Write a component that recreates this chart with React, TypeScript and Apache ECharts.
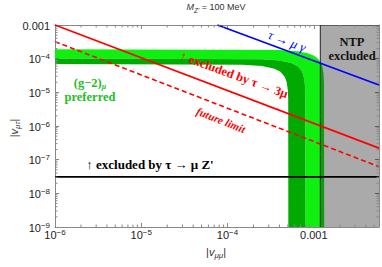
import React, { useEffect, useRef } from "react";
import * as echarts from "echarts";

const X_MIN = 1e-6;
const X_MAX = 5.7e-3;
const Y_MIN = 1e-9;
const Y_MAX = 1e-3;

// (g-2)_mu preferred band boundaries
const g2Inner: [number, number][] = [
  [1e-6, 6.95e-5], [1.5e-4, 6.64e-5], [2.5e-4, 6.05e-5], [3.5e-4, 5.03e-5],
  [4.1e-4, 4.09e-5], [4.6e-4, 2.92e-5], [4.85e-4, 2.02e-5], [5.0e-4, 1.16e-5],
  [5.05e-4, 6.2e-6], [5.07e-4, 1e-9],
];
const g2Mid: [number, number][] = [
  [1e-6, 1.02e-4], [2.5e-4, 9.69e-5], [4e-4, 8.83e-5], [5.5e-4, 7.41e-5],
  [6.5e-4, 5.95e-5], [7.2e-4, 4.45e-5], [7.6e-4, 3.18e-5], [7.85e-4, 1.97e-5],
  [7.95e-4, 1.13e-5], [8e-4, 1e-9],
];
const g2Outer: [number, number][] = [
  [1e-6, 1.9e-4], [4e-4, 1.81e-4], [6.5e-4, 1.65e-4], [8.5e-4, 1.45e-4],
  [1.0e-3, 1.24e-4], [1.12e-3, 1.0e-4], [1.2e-3, 7.9e-5], [1.26e-3, 5.65e-5],
  [1.295e-3, 3.68e-5], [1.313e-3, 1.9e-5], [1.32e-3, 1e-9],
];

const tauMuGamma: [number, number][] = [[7.65e-5, 1e-3], [5.7e-3, 1.65e-5]];
const tau3mu: [number, number][] = [[1e-6, 1e-3], [5.7e-3, 2.2e-7]];
const tau3muFuture: [number, number][] = [[1e-6, 3.2e-4], [5.7e-3, 6.2e-8]];
const tauMuZ: [number, number][] = [[1e-6, 3.1e-8], [5.7e-3, 3.1e-8]];
const ntpStart = 1.19e-3;

const xDecades = [-6, -5, -4, -3];
const yDecades = [-9, -8, -7, -6, -5, -4, -3];
const minorMult = [2, 3, 4, 5, 6, 7, 8, 9];

const LIGHT = "#10f010";
const DARK = "#00aa00";

const bands = [
  { pts: [...g2Mid, ...[...g2Outer].reverse()], color: LIGHT },
  { pts: [...g2Inner, ...[...g2Mid].reverse()], color: DARK },
];

function fmt(v: number) {
  const l = Math.log10(v);
  const e = Math.round(l);
  if (Math.abs(l - e) > 0.01) return "";
  if (e === -3) return "{c|0.001}";
  return "{b|10}{s|\u2212" + -e + "}";
}

const labelRich = {
  b: { fontSize: 11, lineHeight: 12, verticalAlign: "bottom", fontFamily: "Liberation Sans", color: "#222" },
  c: { fontSize: 11, lineHeight: 12, padding: [4, 0, 0, 0], verticalAlign: "bottom", fontFamily: "Liberation Sans", color: "#222" },
  s: { fontSize: 8, lineHeight: 8, padding: [0, 0, 8, 0], verticalAlign: "top", fontFamily: "Liberation Sans", color: "#222" },
};

const FRAME = "#888";

export default function App() {
  const ref = useRef<HTMLDivElement>(null);
  useEffect(() => {
    if (!ref.current) return;
    const chart = echarts.init(ref.current, null, { renderer: "svg" });

    const minorData: number[][] = [];
    xDecades.forEach((d) =>
      minorMult.forEach((k) => {
        const v = k * Math.pow(10, d);
        if (v < X_MAX) minorData.push([v, 1e-6, 0]);
      })
    );
    yDecades.slice(0, -1).forEach((d) =>
      minorMult.forEach((k) => {
        minorData.push([1e-5, k * Math.pow(10, d), 1]);
      })
    );

    const axisCommon = {
      type: "log",
      logBase: 10,
      axisLine: { show: true, lineStyle: { color: FRAME, width: 1 } },
      axisTick: { show: true, inside: true, length: 4, lineStyle: { color: FRAME } },
      splitLine: { show: false },
      minorTick: { show: false },
    };

    const tickLine = (x1: number, y1: number, x2: number, y2: number) => ({
      type: "line",
      shape: { x1, y1, x2, y2 },
      style: { stroke: FRAME, lineWidth: 1 },
    });

    const serifBold = "bold 13px 'Liberation Serif'";

    chart.setOption({
      animation: false,
      grid: { left: 55, right: 2, top: 25, bottom: 40, containLabel: false },
      xAxis: [
        {
          ...axisCommon,
          position: "bottom",
          min: X_MIN,
          max: X_MAX,
          axisLabel: { margin: 1, formatter: fmt, rich: labelRich },
        },
        { ...axisCommon, position: "top", min: X_MIN, max: X_MAX, axisLabel: { show: false } },
      ],
      yAxis: [
        {
          ...axisCommon,
          position: "left",
          min: Y_MIN,
          max: Y_MAX,
          axisLabel: { margin: 5, formatter: fmt, rich: labelRich },
        },
        { ...axisCommon, position: "right", min: Y_MIN, max: Y_MAX, axisLabel: { show: false } },
      ],
      series: [
        {
          type: "custom",
          coordinateSystem: "cartesian2d",
          silent: true,
          z: 1,
          data: bands.map((_, i) => [1e-5, 1e-5, i]),
          encode: { x: 0, y: 1 },
          renderItem: (params: any, api: any) => {
            const b = bands[api.value(2)];
            return {
              type: "polygon",
              shape: { points: b.pts.map((p) => api.coord(p)) },
              style: { fill: b.color },
            };
          },
        },
        {
          type: "custom",
          coordinateSystem: "cartesian2d",
          silent: true,
          z: 2,
          data: [[ntpStart, Y_MAX, 0]],
          encode: { x: 0, y: 1 },
          renderItem: (params: any, api: any) => {
            const p1 = api.coord([ntpStart, Y_MAX]);
            const p2 = api.coord([X_MAX, Y_MIN]);
            return {
              type: "group",
              children: [
                {
                  type: "rect",
                  shape: { x: p1[0], y: p1[1], width: p2[0] - p1[0], height: p2[1] - p1[1] },
                  style: { fill: "rgba(0,0,0,0.333)" },
                },
                {
                  type: "line",
                  shape: { x1: p1[0], y1: p1[1], x2: p1[0], y2: p2[1] },
                  style: { stroke: "#222", lineWidth: 1 },
                },
              ],
            };
          },
        },
        {
          type: "line",
          z: 3,
          data: tauMuZ,
          showSymbol: false,
          lineStyle: { color: "#000", width: 1.8 },
          silent: true,
        },
        {
          type: "line",
          z: 3,
          data: tau3muFuture,
          showSymbol: false,
          lineStyle: { color: "#ff0000", width: 1.6, type: [5, 3] },
          silent: true,
        },
        {
          type: "line",
          z: 3,
          data: tau3mu,
          showSymbol: false,
          lineStyle: { color: "#ff0000", width: 1.8 },
          silent: true,
        },
        {
          type: "line",
          z: 3,
          data: tauMuGamma,
          showSymbol: false,
          lineStyle: { color: "#0000ff", width: 1.8 },
          silent: true,
        },
        {
          type: "custom",
          coordinateSystem: "cartesian2d",
          silent: true,
          z: 5,
          clip: false,
          data: minorData,
          encode: { x: 0, y: 1 },
          renderItem: (params: any, api: any) => {
            const kind = api.value(2);
            if (kind === 0) {
              const v = api.value(0);
              const b = api.coord([v, Y_MIN]);
              const t = api.coord([v, Y_MAX]);
              return {
                type: "group",
                children: [tickLine(b[0], b[1], b[0], b[1] - 2.5), tickLine(t[0], t[1], t[0], t[1] + 2.5)],
              };
            }
            const v = api.value(1);
            const l = api.coord([X_MIN, v]);
            const r = api.coord([X_MAX, v]);
            return {
              type: "group",
              children: [tickLine(l[0], l[1], l[0] + 2.5, l[1]), tickLine(r[0], r[1], r[0] - 2.5, r[1])],
            };
          },
        },
      ],
      graphic: [
        {
          type: "text",
          x: 216,
          y: 8,
          style: {
            text: "{i|M}{sub|Z'}{n| = 100 MeV}",
            align: "center",
            verticalAlign: "middle",
            fill: "#333",
            rich: {
              i: { fontSize: 9, fontStyle: "italic", fontFamily: "Liberation Sans", lineHeight: 11, verticalAlign: "top", fill: "#333" },
              sub: { fontSize: 6.5, fontStyle: "italic", fontFamily: "Liberation Sans", lineHeight: 8, padding: [5, 0, 0, 0], verticalAlign: "bottom", fill: "#333" },
              n: { fontSize: 9, fontFamily: "Liberation Sans", lineHeight: 11, verticalAlign: "top", fill: "#333" },
            },
          },
        },
        {
          type: "text",
          x: 15,
          y: 128,
          rotation: Math.PI / 2,
          style: {
            text: "{n||}{i|v}{sub|\u03bc\u03c4}{n||}",
            align: "center",
            verticalAlign: "middle",
            rich: {
              n: { fontSize: 11, fontFamily: "Liberation Sans", lineHeight: 13, verticalAlign: "top", fill: "#333" },
              i: { fontSize: 11, fontStyle: "italic", fontFamily: "Liberation Sans", lineHeight: 13, verticalAlign: "top", fill: "#333" },
              sub: { fontSize: 8, fontStyle: "italic", fontFamily: "Liberation Sans", lineHeight: 9, padding: [7, 0, 0, 0], verticalAlign: "bottom", fill: "#333" },
            },
          },
        },
        {
          type: "text",
          x: 216,
          y: 253,
          style: {
            text: "{n||}{i|v}{sub|\u03bc\u03bc}{n||}",
            align: "center",
            verticalAlign: "middle",
            rich: {
              n: { fontSize: 11, fontFamily: "Liberation Sans", lineHeight: 13, verticalAlign: "top", fill: "#333" },
              i: { fontSize: 11, fontStyle: "italic", fontFamily: "Liberation Sans", lineHeight: 13, verticalAlign: "top", fill: "#333" },
              sub: { fontSize: 8, fontStyle: "italic", fontFamily: "Liberation Sans", lineHeight: 9, padding: [7, 0, 0, 0], verticalAlign: "bottom", fill: "#333" },
            },
          },
        },
        {
          type: "text",
          x: 352,
          y: 41.5,
          z: 10,
          style: { text: "NTP", font: "bold 12.5px 'Liberation Serif'", fill: "#111", align: "center", verticalAlign: "middle" },
        },
        {
          type: "text",
          x: 352,
          y: 56,
          z: 10,
          style: { text: "excluded", font: "bold 12.5px 'Liberation Serif'", fill: "#111", align: "center", verticalAlign: "middle" },
        },
        {
          type: "text",
          x: 287,
          y: 41,
          rotation: -0.36,
          z: 10,
          style: {
            text: "\u03c4 \u2192 \u03bc \u03b3",
            font: "italic 13px 'Liberation Serif'",
            fill: "#0000ff",
            align: "center",
            verticalAlign: "middle",
          },
        },
        {
          type: "text",
          x: 234,
          y: 75,
          rotation: -0.35,
          z: 10,
          style: {
            text: "\u2191 excluded by \u03c4 \u2192 3\u03bc",
            font: "bold 12.5px 'Liberation Serif'",
            fill: "#ff0000",
            align: "center",
            verticalAlign: "middle",
          },
        },
        {
          type: "text",
          x: 221,
          y: 120,
          rotation: -0.38,
          z: 10,
          style: {
            text: "future limit",
            font: "italic bold 11px 'Liberation Serif'",
            fill: "#ff0000",
            align: "center",
            verticalAlign: "middle",
          },
        },
        {
          type: "text",
          x: 90,
          y: 83,
          z: 10,
          style: {
            text: "{a|(g\u22122)}{sub|\u03bc}",
            align: "center",
            verticalAlign: "middle",
            rich: {
              a: { font: "bold 12.5px 'Liberation Serif'", lineHeight: 14, verticalAlign: "top", fill: "#22c022" },
              sub: { font: "italic bold 8px 'Liberation Serif'", lineHeight: 9, padding: [6, 0, 0, 0], verticalAlign: "bottom", fill: "#22c022" },
            },
          },
        },
        {
          type: "text",
          x: 90,
          y: 97,
          z: 10,
          style: { text: "preferred", font: "bold 12.5px 'Liberation Serif'", fill: "#22c022", align: "center", verticalAlign: "middle" },
        },
        {
          type: "text",
          x: 150,
          y: 164,
          z: 10,
          style: {
            text: "\u2191 excluded by \u03c4 \u2192 \u03bc Z'",
            font: serifBold,
            fill: "#000",
            align: "center",
            verticalAlign: "middle",
          },
        },
      ],
    });
    return () => chart.dispose();
  }, []);
  return (
    <div
      ref={ref}
      style={{ position: "fixed", left: 0, top: 0, width: 382, height: 267, background: "#fff" }}
    />
  );
}
